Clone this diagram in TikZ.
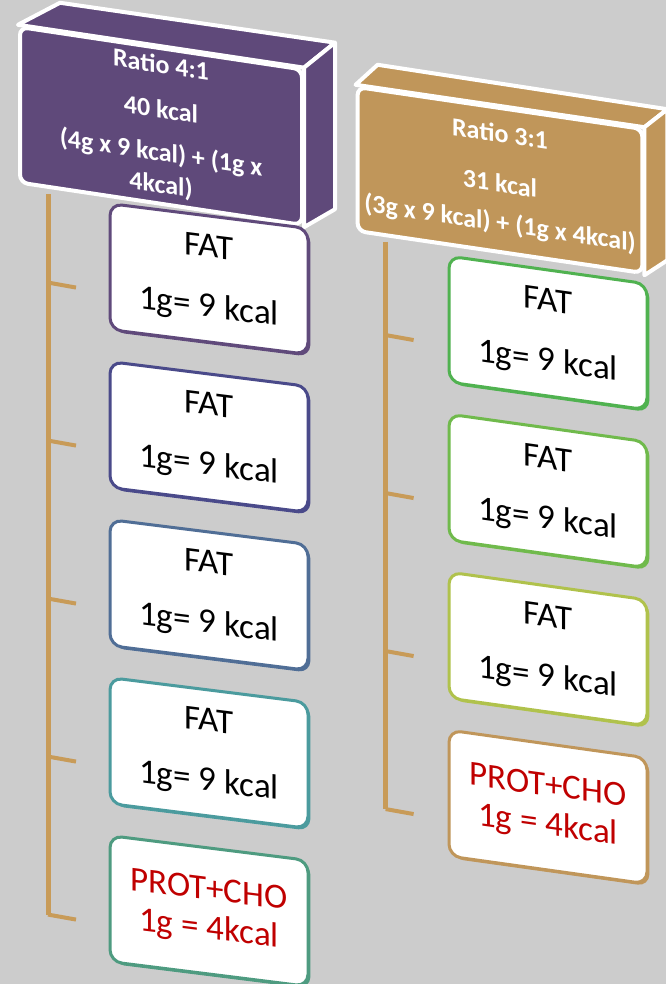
\documentclass[tikz,border=0pt]{standalone}
\usepackage{fontspec}
\setmainfont{Carlito}
\usetikzlibrary{positioning, calc, shadows}

\definecolor{bggray}{RGB}{204,204,204}
\definecolor{hdrpurple}{RGB}{95,73,122}
\definecolor{hdrtan}{RGB}{192,150,90}
\definecolor{stemtan}{RGB}{200,155,88}
\definecolor{edgeA}{RGB}{96,74,123}
\definecolor{edgeB}{RGB}{74,74,138}
\definecolor{edgeC}{RGB}{80,110,150}
\definecolor{edgeD}{RGB}{75,155,158}
\definecolor{edgeE}{RGB}{78,155,128}
\definecolor{edgeF}{RGB}{80,178,80}
\definecolor{edgeG}{RGB}{112,186,76}
\definecolor{edgeH}{RGB}{176,194,76}
\definecolor{edgeI}{RGB}{192,150,90}
\definecolor{protred}{RGB}{192,0,0}

\begin{document}
\begin{tikzpicture}[x=0.5pt, y=-0.5pt, node distance=79pt,
    hdr/.style={rectangle, rounded corners=4pt, draw=white, line width=2pt,
      minimum width=141pt, minimum height=72pt, align=center, text=white,
      font=\fontsize{13}{16}\selectfont\bfseries},
    face/.style={draw=white, line width=2pt, line join=round},
    fatbox/.style={rectangle, rounded corners=6pt, fill=white, draw=#1,
      line width=1.5pt, minimum width=99pt, minimum height=63pt, align=center,
      font=\fontsize{17.5}{30}\selectfont,
      drop shadow={shadow xshift=1.2pt, shadow yshift=-1.2pt, fill=#1, opacity=1}},
    protbox/.style={fatbox=#1, text=protred, font=\fontsize{17.5}{19.5}\selectfont},
    stem/.style={draw=stemtan, line width=2.5pt},
    tick/.style={draw=stemtan, line width=2pt}]
    \useasboundingbox (0,0) rectangle (666,984);
    \fill[bggray] (0,0) rectangle (666,984);

    % ratio 4:1
    \node[hdr, fill=hdrpurple, yslant=-0.15] (hdrL) at (161,126) {Ratio 4:1\\[6.5pt] 40 kcal\\[5.5pt] (4g x 9 kcal) + (1g x\\ 4kcal)};
    \filldraw[face, fill=hdrpurple] (hdrL.north west) -- ++(42,-22) -- ($(hdrL.north east)+(31,-25)$) -- (hdrL.north east) -- cycle;
    \filldraw[face, fill=hdrpurple] (hdrL.north east) -- ++(31,-25) -- ($(hdrL.south east)+(31,-18)$) -- (hdrL.south east) -- cycle;
    \coordinate (stemL) at ($(hdrL.south west)+(30,10)$);

    \node[fatbox=edgeA, yslant=-0.125] (fatL1) at (209,279) {FAT\\1g= 9 kcal};
    \node[fatbox=edgeB, yslant=-0.125, below of=fatL1] (fatL2) {FAT\\1g= 9 kcal};
    \node[fatbox=edgeC, yslant=-0.125, below of=fatL2] (fatL3) {FAT\\1g= 9 kcal};
    \node[fatbox=edgeD, yslant=-0.125, below of=fatL3] (fatL4) {FAT\\1g= 9 kcal};
    \node[protbox=edgeE, yslant=-0.125, below of=fatL4] (fatL5) {PROT+CHO\\1g = 4kcal};

    % ratio 3:1
    \node[hdr, fill=hdrtan, yslant=-0.147] (hdrR) at (500,180) {Ratio 3:1\\[9pt] 31 kcal\\[3.5pt] (3g x 9 kcal) + (1g x 4kcal)};
    \filldraw[face, fill=hdrtan] (hdrR.north west) -- ++(22,-20) -- ($(hdrR.north east)+(23,-18)$) -- (hdrR.north east) -- cycle;
    \filldraw[face, fill=hdrtan] (hdrR.north east) -- ++(23,-18) -- ($(hdrR.south east)+(23,-15)$) -- (hdrR.south east) -- cycle;
    \coordinate (stemR) at ($(hdrR.south west)+(30,9)$);

    \node[fatbox=edgeF, yslant=-0.14] (fatR1) at (548,333) {FAT\\1g= 9 kcal};
    \node[fatbox=edgeG, yslant=-0.14, below of=fatR1] (fatR2) {FAT\\1g= 9 kcal};
    \node[fatbox=edgeH, yslant=-0.14, below of=fatR2] (fatR3) {FAT\\1g= 9 kcal};
    \node[protbox=edgeI, yslant=-0.14, below of=fatR3] (fatR4) {PROT+CHO\\1g = 4kcal};

    % stems
    \foreach \i in {1,...,5} {
      \coordinate (tL\i) at ($(fatL\i.north west)!0.625!(fatL\i.south west)$);
      \draw[tick] (stemL |- tL\i) -- ++(28,5);
    }
    \draw[stem] (stemL) -- (stemL |- tL5);
    \foreach \i in {1,...,4} {
      \coordinate (tR\i) at ($(fatR\i.north west)!0.625!(fatR\i.south west)$);
      \draw[tick] (stemR |- tR\i) -- ++(28,5);
    }
    \draw[stem] (stemR) -- (stemR |- tR4);
\end{tikzpicture}
\end{document}
